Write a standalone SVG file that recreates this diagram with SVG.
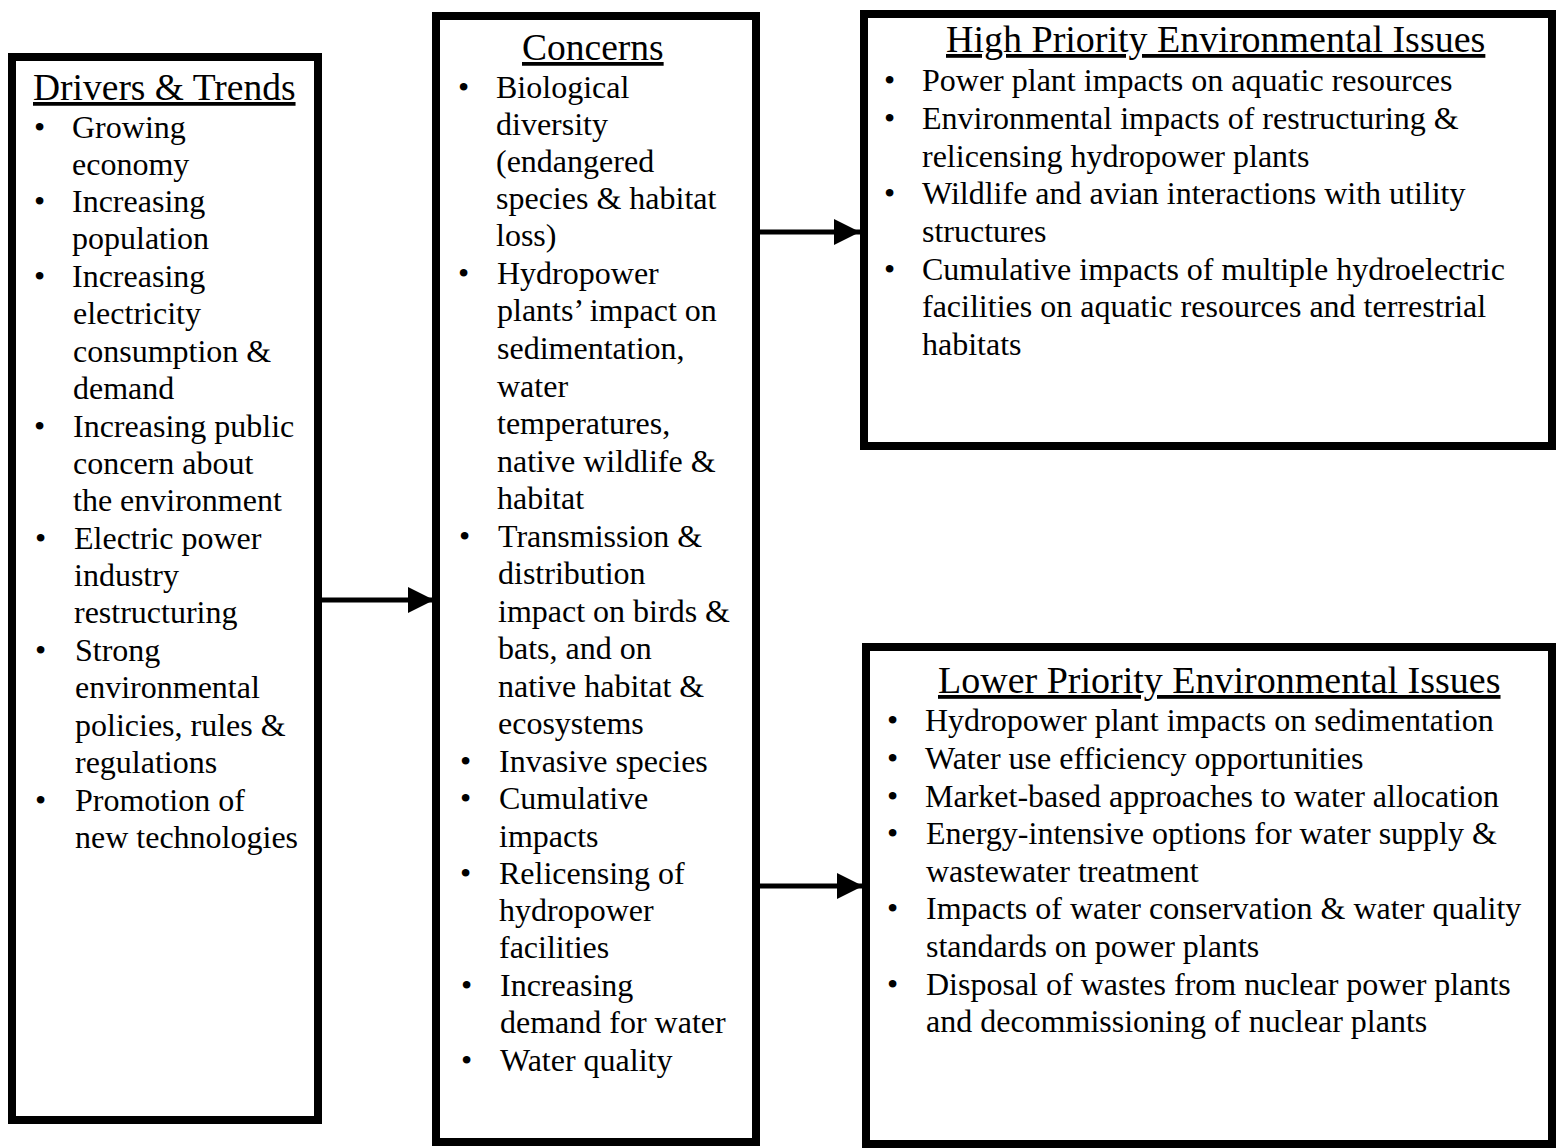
<svg xmlns="http://www.w3.org/2000/svg" width="1556" height="1148" viewBox="0 0 1556 1148">
<style>
.box{fill:#fff;stroke:#000;stroke-width:8}
text{font-family:"Liberation Serif","Times New Roman",serif;fill:#000}
.h{font-size:37.5px;text-decoration:underline}
.h2{font-size:38px;text-decoration:underline}
.b{font-size:32px}
.conn line{stroke:#000;stroke-width:5}
</style>
<defs>
<marker id="ah" markerUnits="userSpaceOnUse" markerWidth="28" markerHeight="28" refX="26" refY="13" orient="auto">
<polygon points="0,0 26,13 0,26" fill="#000"/>
</marker>
</defs>
<rect width="1556" height="1148" fill="#fff"/>
<g id="drivers">
<rect class="box" x="12" y="57" width="306" height="1063"/>
<text class="h" x="33" y="100">Drivers &amp; Trends</text>
<g class="b">
<text x="34" y="138">•</text><text x="72" y="138">Growing</text>
<text x="72" y="175">economy</text>
<text x="34" y="212">•</text><text x="72" y="212">Increasing</text>
<text x="72" y="249">population</text>
<text x="34" y="287">•</text><text x="72" y="287">Increasing</text>
<text x="73" y="324">electricity</text>
<text x="73" y="362">consumption &amp;</text>
<text x="73" y="399">demand</text>
<text x="34" y="437">•</text><text x="73" y="437">Increasing public</text>
<text x="73" y="474">concern about</text>
<text x="73" y="511">the environment</text>
<text x="35" y="549">•</text><text x="74" y="549">Electric power</text>
<text x="74" y="586">industry</text>
<text x="74" y="623">restructuring</text>
<text x="35" y="661">•</text><text x="75" y="661">Strong</text>
<text x="75" y="698">environmental</text>
<text x="75" y="736">policies, rules &amp;</text>
<text x="75" y="773">regulations</text>
<text x="35" y="811">•</text><text x="75" y="811">Promotion of</text>
<text x="75" y="848">new technologies</text>
</g>
</g>
<g id="concerns">
<rect class="box" x="436" y="16" width="320" height="1126"/>
<text class="h" x="522" y="60">Concerns</text>
<g class="b">
<text x="458" y="98">•</text><text x="496" y="98">Biological</text>
<text x="496" y="135">diversity</text>
<text x="496" y="172">(endangered</text>
<text x="496" y="209">species &amp; habitat</text>
<text x="496" y="246">loss)</text>
<text x="458" y="284">•</text><text x="497" y="284">Hydropower</text>
<text x="497" y="321">plants’ impact on</text>
<text x="497" y="359">sedimentation,</text>
<text x="497" y="397">water</text>
<text x="497" y="434">temperatures,</text>
<text x="497" y="472">native wildlife &amp;</text>
<text x="497" y="509">habitat</text>
<text x="459" y="547">•</text><text x="498" y="547">Transmission &amp;</text>
<text x="498" y="584">distribution</text>
<text x="498" y="622">impact on birds &amp;</text>
<text x="498" y="659">bats, and on</text>
<text x="498" y="697">native habitat &amp;</text>
<text x="498" y="734">ecosystems</text>
<text x="460" y="772">•</text><text x="499" y="772">Invasive species</text>
<text x="460" y="809">•</text><text x="499" y="809">Cumulative</text>
<text x="499" y="847">impacts</text>
<text x="460" y="884">•</text><text x="499" y="884">Relicensing of</text>
<text x="499" y="921">hydropower</text>
<text x="499" y="958">facilities</text>
<text x="461" y="996">•</text><text x="500" y="996">Increasing</text>
<text x="500" y="1033">demand for water</text>
<text x="461" y="1071">•</text><text x="500" y="1071">Water quality</text>
</g>
</g>
<g id="high">
<rect class="box" x="864" y="14" width="688" height="432"/>
<text class="h2" x="946" y="52">High Priority Environmental Issues</text>
<g class="b">
<text x="884" y="91">•</text><text x="922" y="91">Power plant impacts on aquatic resources</text>
<text x="884" y="129">•</text><text x="922" y="129">Environmental impacts of restructuring &amp;</text>
<text x="922" y="167">relicensing hydropower plants</text>
<text x="884" y="204">•</text><text x="922" y="204">Wildlife and avian interactions with utility</text>
<text x="922" y="242">structures</text>
<text x="884" y="280">•</text><text x="922" y="280">Cumulative impacts of multiple hydroelectric</text>
<text x="922" y="317">facilities on aquatic resources and terrestrial</text>
<text x="922" y="355">habitats</text>
</g>
</g>
<g id="lower">
<rect class="box" x="866" y="647" width="686" height="497"/>
<text class="h2" x="938" y="693">Lower Priority Environmental Issues</text>
<g class="b">
<text x="887" y="731">•</text><text x="925" y="731">Hydropower plant impacts on sedimentation</text>
<text x="887" y="769">•</text><text x="925" y="769">Water use efficiency opportunities</text>
<text x="887" y="807">•</text><text x="925" y="807">Market-based approaches to water allocation</text>
<text x="887" y="844">•</text><text x="926" y="844">Energy-intensive options for water supply &amp;</text>
<text x="926" y="882">wastewater treatment</text>
<text x="887" y="919">•</text><text x="926" y="919">Impacts of water conservation &amp; water quality</text>
<text x="926" y="957">standards on power plants</text>
<text x="887" y="995">•</text><text x="926" y="995">Disposal of wastes from nuclear power plants</text>
<text x="926" y="1032">and decommissioning of nuclear plants</text>
</g>
</g>
<g id="connectors" class="conn">
<line x1="322" y1="600" x2="434" y2="600" marker-end="url(#ah)"/>
<line x1="760" y1="232" x2="860" y2="232" marker-end="url(#ah)"/>
<line x1="760" y1="886" x2="863" y2="886" marker-end="url(#ah)"/>
</g>
</svg>
